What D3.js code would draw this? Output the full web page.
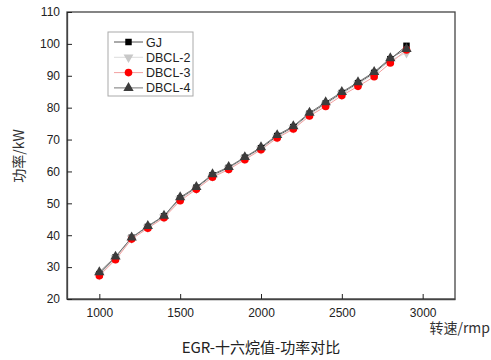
<!DOCTYPE html>
<html><head><meta charset="utf-8">
<script src="https://cdn.jsdelivr.net/npm/d3@7"></script>
<style>body{margin:0;background:#fff}svg{display:block}</style>
</head><body>
<svg id="c" width="491" height="360"></svg>
<script>
const speeds = [1000,1100,1200,1300,1400,1500,1600,1700,1800,1900,2000,2100,2200,2300,2400,2500,2600,2700,2800,2900];
const GJ     = [27.8,33.0,39.2,42.6,45.9,51.5,54.9,58.8,61.1,64.3,67.3,71.1,73.9,78.1,81.3,84.6,87.7,90.9,95.2,99.4];
const DBCL2  = [27.6,32.8,39.0,42.4,45.7,51.3,54.6,58.5,60.9,64.0,67.0,70.8,73.6,77.8,81.0,84.3,87.4,90.5,94.8,97.2];
const DBCL3  = [27.3,32.3,38.8,42.2,45.5,50.8,54.4,58.2,60.6,63.7,66.8,70.5,73.3,77.4,80.4,83.8,86.7,89.7,94.0,98.1];
const DBCL4  = [28.4,33.3,39.3,42.9,46.1,51.9,55.1,59.1,61.4,64.5,67.6,71.4,74.2,78.4,81.7,84.9,88.0,91.2,95.5,98.4];
const seriesNames = ["GJ","DBCL-2","DBCL-3","DBCL-4"];
const xTicks = [1000,1500,2000,2500,3000];
const yTicks = [20,30,40,50,60,70,80,90,100,110];

const styles = [
  {line:"#555", fill:"#000", sym:d3.symbolSquare, size:42, rot:0},
  {line:"#ddd", fill:"#c8c8c8", sym:d3.symbolTriangle, size:42, rot:180},
  {line:"#f2a0a0", fill:"#ff0000", sym:d3.symbolCircle, size:46, rot:0},
  {line:"#777", fill:"#3c3c3c", sym:d3.symbolTriangle, size:46, rot:0}
];
const data = [GJ, DBCL2, DBCL3, DBCL4];

const svg = d3.select("#c");
const L=67, R=455, T=12, B=299;
const x = d3.scaleLinear().domain([800,3200]).range([L,R]);
const y = d3.scaleLinear().domain([20,110]).range([B,T]);
const font = "'Liberation Sans', Arial, sans-serif";

// frame
svg.append("rect").attr("x",L).attr("y",T).attr("width",R-L).attr("height",B-T)
  .attr("fill","none").attr("stroke","#444").attr("stroke-width",1.3);

// axes
const xa = svg.append("g").attr("transform",`translate(0,${B})`)
  .call(d3.axisBottom(x).tickValues(xTicks).tickFormat(d3.format("d")).tickSizeInner(-5).tickSizeOuter(0).tickPadding(9));
const ya = svg.append("g").attr("transform",`translate(${L},0)`)
  .call(d3.axisLeft(y).tickValues(yTicks).tickFormat(d3.format("d")).tickSizeInner(-5).tickSizeOuter(0).tickPadding(7));
[xa,ya].forEach(g=>{
  g.select(".domain").attr("stroke","#444").attr("stroke-width",1.3);
  g.selectAll(".tick line").attr("stroke","#222").attr("stroke-width",1);
  g.selectAll("text").attr("font-family",font).attr("font-size",12).attr("fill","#222");
});

// lines & markers
const line = d3.line().x((d,i)=>x(speeds[i])).y(d=>y(d));
data.forEach((vals,k)=>{
  const s = styles[k];
  svg.append("path").datum(vals).attr("d",line).attr("fill","none")
    .attr("stroke",s.line).attr("stroke-width",1);
});
data.forEach((vals,k)=>{
  const s = styles[k];
  svg.append("g").selectAll("path").data(vals).join("path")
    .attr("d",d3.symbol().type(s.sym).size(s.size))
    .attr("transform",(d,i)=>`translate(${x(speeds[i])},${y(d)}) rotate(${s.rot})`)
    .attr("fill",s.fill);
});

// legend
const lg = svg.append("g");
lg.append("rect").attr("x",108).attr("y",32).attr("width",85).attr("height",64)
  .attr("fill","#fff").attr("stroke","#aaa").attr("stroke-width",1);
seriesNames.forEach((n,k)=>{
  const s = styles[k], yy = 42 + k*15.3;
  lg.append("line").attr("x1",114).attr("x2",143).attr("y1",yy).attr("y2",yy)
    .attr("stroke",s.line).attr("stroke-width",1);
  lg.append("path").attr("d",d3.symbol().type(s.sym).size(s.size))
    .attr("transform",`translate(128.5,${yy}) rotate(${s.rot})`).attr("fill",s.fill);
  lg.append("text").attr("x",146).attr("y",yy+4.5).text(n)
    .attr("font-family",font).attr("font-size",12.5).attr("fill","#222");
});

// labels
svg.append("text").attr("transform","translate(24,156) rotate(-90)").attr("text-anchor","middle")
  .attr("font-family","'Noto Sans CJK SC', sans-serif").attr("font-size",14).attr("fill","#333").text("功率/kW");
svg.append("text").attr("x",490).attr("y",333).attr("text-anchor","end")
  .attr("font-family","'Noto Sans CJK SC', sans-serif").attr("font-size",14).attr("fill","#333").text("转速/rmp");
svg.append("text").attr("x",261).attr("y",353).attr("text-anchor","middle")
  .attr("font-family","'Noto Sans CJK SC', sans-serif").attr("font-size",15).attr("fill","#222").text("EGR-十六烷值-功率对比");
</script>
</body></html>
